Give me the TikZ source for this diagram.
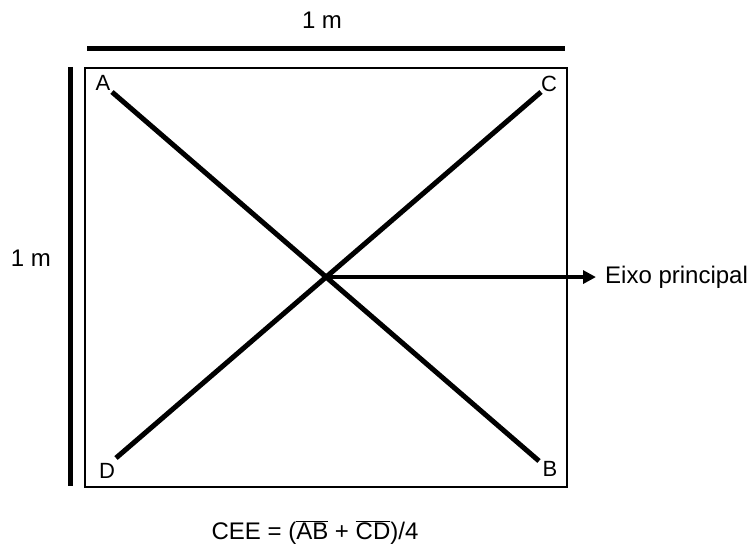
\documentclass[tikz,border=0pt]{standalone}
\usepackage{fontspec}
\setmainfont{Liberation Sans}
\usetikzlibrary{arrows.meta,positioning}

\begin{document}
\begin{tikzpicture}[x=1pt,y=-1pt,
  bar/.style={line width=5pt},
  diag/.style={line width=5pt},
  arr/.style={line width=4pt,-{Triangle[length=13pt,width=13pt]}},
  crn/.style={font=\fontsize{22}{26}\selectfont,inner sep=0pt},
  txt/.style={font=\fontsize{24}{28}\selectfont,inner sep=0pt}]
  \useasboundingbox (0,0) rectangle (755,545);
  % sample frame and size bars
  \draw[line width=2pt] (85,68) rectangle (567,487);
  \coordinate (tl) at (87,49); \coordinate (tr) at (565,49);
  \coordinate (lt) at (70,67); \coordinate (lb) at (70,486);
  \draw[bar] (tl) -- (tr);
  \draw[bar] (lt) -- (lb);
  \node[txt,anchor=base] (wtop) at (322,29) {1 m};
  \node[txt,anchor=base] (wleft) at (31,267) {1 m};
  % diagonals
  \coordinate (a) at (112,92); \coordinate (b) at (539,461);
  \coordinate (c) at (541,92); \coordinate (d) at (116,458);
  \draw[diag] (a) -- (b);
  \draw[diag] (d) -- (c);
  \node[crn] (la) at (103,83) {A};
  \node[crn] (lc) at (549,84) {C};
  \node[crn] (ld) at (107,471) {D};
  \node[crn] (lb) at (550,469) {B};
  % main axis
  \coordinate (o) at (intersection of a--b and c--d);
  \node[txt,anchor=west] (eixo) at (605,277) {Eixo principal};
  \draw[arr,shorten >=9pt] (o) -- (o -| eixo.west);
  \node[txt,anchor=base] (cee) at (315,539)
    {CEE = (\(\overline{\hbox{AB}}\) + \(\overline{\hbox{CD}}\))/4};
\end{tikzpicture}
\end{document}
